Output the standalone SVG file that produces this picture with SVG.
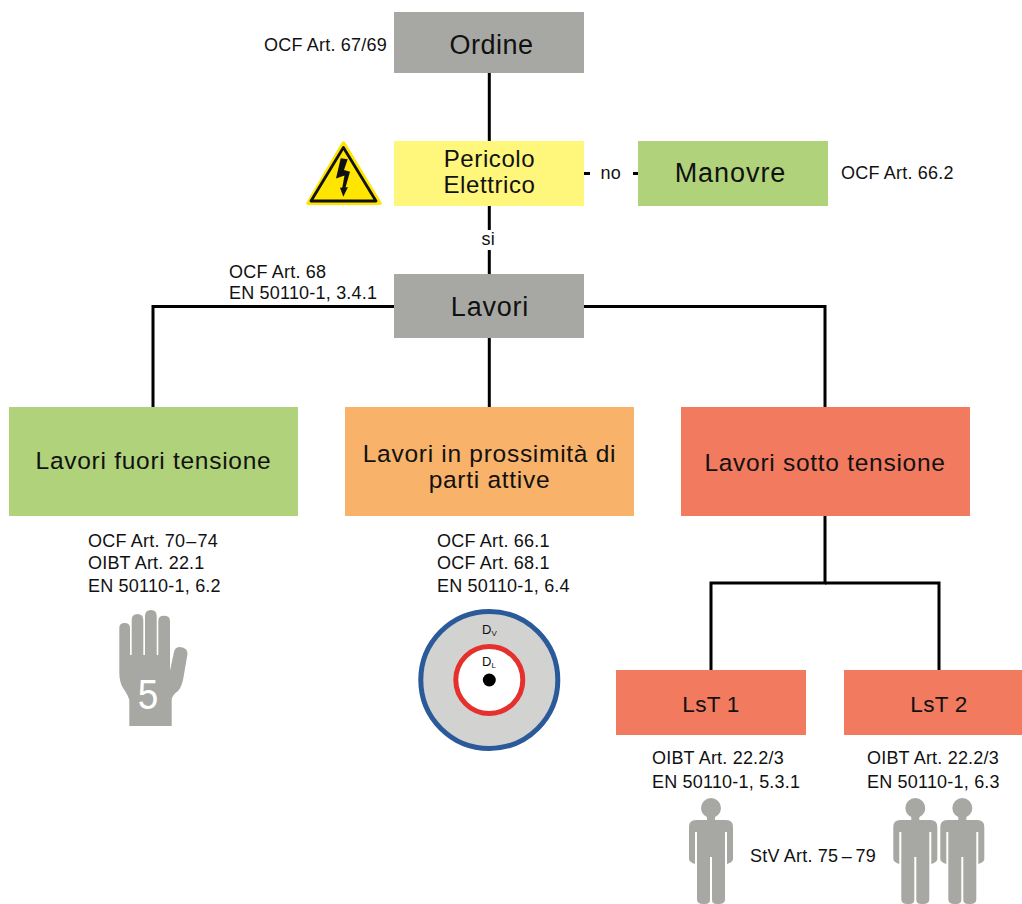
<svg xmlns="http://www.w3.org/2000/svg" width="1022" height="904" viewBox="0 0 1022 904">
<style>
text{font-family:"Liberation Sans",Arial,sans-serif;fill:#111}
.t{font-size:24.5px;text-anchor:middle;letter-spacing:.72px}
.l{font-size:18px;letter-spacing:.2px}
.c{stroke:#000;stroke-width:3;fill:none}
.grey{fill:#a7a8a3}
.green{fill:#b0d27a}
.yellow{fill:#fff67c}
.orange{fill:#f8b26a}
.red{fill:#f27a5f}
</style>
<defs>
<g id="person" class="grey">
<circle cx="0" cy="-12" r="10"/>
<rect x="-4" y="-5" width="8" height="7"/>
<path d="M-15 0H15Q22 0 22 7V39Q22 42 16 44V12H14V80Q13.500 84 8 84H6Q1 84 1 80V37H-1V80Q-1 84-6 84H-8Q-13.500 84-14 80V12H-16V44Q-22 42-22 39V7Q-22 0-15 0Z"/>
</g>
</defs>
<g id="connectors" class="c">
<path d="M489.300 73V141"/>
<path d="M489.300 206V274"/>
<path d="M584 173.500H638"/>
<path d="M394 306.500H153V407"/>
<path d="M489.300 338V407"/>
<path d="M584 306.500H825V407"/>
<path d="M825 516V583H711V670"/>
<path d="M825 583H939V670"/>
</g>
<g id="n-ordine"><rect class="grey" x="394" y="12" width="190" height="61"/><text class="t" x="491.500" y="54" style="font-size:27px;letter-spacing:.5px">Ordine</text></g>
<text class="l" x="264" y="51">OCF Art. 67/69</text>
<g id="n-pericolo"><rect class="yellow" x="394" y="141" width="190" height="65"/><text class="t" x="489.500" y="167" style="font-size:24px;letter-spacing:.6px">Pericolo</text><text class="t" x="489.500" y="193" style="font-size:24px;letter-spacing:.6px">Elettrico</text></g>
<g id="warning">
<path d="M343.500 143L308 203.300H380Z" fill="#ffe500" stroke="#ffe500" stroke-width="3.500" stroke-linejoin="round"/>
<path d="M343.400 147.500L311 201H376Z" fill="#ffe500" stroke="#111" stroke-width="2.800" stroke-linejoin="round"/>
<path d="M340.700 158.300L347.700 159.300L344 170L350 171.700L345.500 187.500L348 187L343.300 196.700L340 187.700L342.300 187.500L344.500 175.500L336 178.500Z" fill="#111"/>
</g>
<g id="no-label"><rect x="590" y="160" width="43" height="26" fill="#fff"/><text class="l" x="600.500" y="179.300">no</text></g>
<g id="n-manovre"><rect class="green" x="638" y="141" width="190" height="65"/><text class="t" x="730.500" y="181.500" style="font-size:27px;letter-spacing:.95px">Manovre</text></g>
<text class="l" x="841" y="179">OCF Art. 66.2</text>
<g id="si-label"><rect x="478" y="230" width="22" height="20" fill="#fff"/><text class="l" x="481.500" y="244.500">si</text></g>
<text class="l" x="229" y="277.700">OCF Art. 68</text>
<text class="l" x="229" y="299.300">EN 50110-1, 3.4.1</text>
<g id="n-lavori"><rect class="grey" x="394" y="274" width="190" height="64"/><text class="t" x="490" y="316" style="font-size:27px;letter-spacing:.8px">Lavori</text></g>
<g id="n-fuori"><rect class="green" x="9" y="407" width="289" height="109"/><text class="t" x="153.500" y="469">Lavori fuori tensione</text></g>
<g id="n-prossimita"><rect class="orange" x="345" y="407" width="289" height="109"/><text class="t" x="489.500" y="461.700">Lavori in prossimità di</text><text class="t" x="489.500" y="488.300">parti attive</text></g>
<g id="n-sotto"><rect class="red" x="681" y="407" width="289" height="109"/><text class="t" x="825" y="471">Lavori sotto tensione</text></g>
<g><text class="l" x="88" y="547">OCF Art. 70<tspan dx="1">–</tspan><tspan dx="1">74</tspan></text><text class="l" x="88" y="569">OIBT Art. 22.1</text><text class="l" x="88" y="592">EN 50110-1, 6.2</text></g>
<g><text class="l" x="437" y="547">OCF Art. 66.1</text><text class="l" x="437" y="569">OCF Art. 68.1</text><text class="l" x="437" y="592">EN 50110-1, 6.4</text></g>
<g id="hand">
<path class="grey" d="M119.300 628Q119.300 623 124.600 623Q130 623 130 628V655H131.700V620Q131.700 614 137.500 614Q143.300 614 143.300 620V655H145V616Q145 610 151 610Q156.700 610 156.700 616V655H158.300V621Q158.300 615.700 164 615.700Q170 615.700 170 621V680L168 680L174 652Q175 647 180 647Q188 648 187.500 654L183 680Q181 688 178 691Q172 695 171.700 700V726H129.300V700Q128 695 123 688Q119.300 682 119.300 672Z"/>
<text transform="translate(148,709) scale(.88,1)" style="font-size:42px;fill:#fff" text-anchor="middle">5</text>
</g>
<g id="zones">
<circle cx="489.300" cy="680" r="68.500" fill="#d2d2d0" stroke="#2b5a9b" stroke-width="5"/>
<circle cx="489.300" cy="680" r="33.500" fill="#fff" stroke="#e5302d" stroke-width="5"/>
<circle cx="489.300" cy="680" r="6.500" fill="#000"/>
<text x="482" y="633.500" style="font-size:13px;letter-spacing:0">D<tspan font-size="8" dy="2">V</tspan></text>
<text x="482" y="665.500" style="font-size:13px;letter-spacing:0">D<tspan font-size="8" dy="2">L</tspan></text>
</g>
<g id="n-lst1"><rect class="red" x="616" y="670" width="190" height="65"/><text class="t" x="711" y="712" style="font-size:22.500px;letter-spacing:.3px">LsT 1</text></g>
<g id="n-lst2"><rect class="red" x="844" y="670" width="190" height="65"/><text class="t" x="939" y="712" style="font-size:22.500px;letter-spacing:.3px">LsT 2</text></g>
<text class="l" x="652" y="764">OIBT Art. 22.2/3</text><text class="l" x="652" y="788">EN 50110-1, 5.3.1</text>
<text class="l" x="867" y="764">OIBT Art. 22.2/3</text><text class="l" x="867" y="788">EN 50110-1, 6.3</text>
<text class="l" x="750" y="862">StV Art. 75<tspan dx="3.500">–</tspan><tspan dx="3.500">79</tspan></text>
<use href="#person" x="711" y="820"/>
<use href="#person" x="915.300" y="820"/>
<use href="#person" x="962.300" y="820"/>
</svg>
